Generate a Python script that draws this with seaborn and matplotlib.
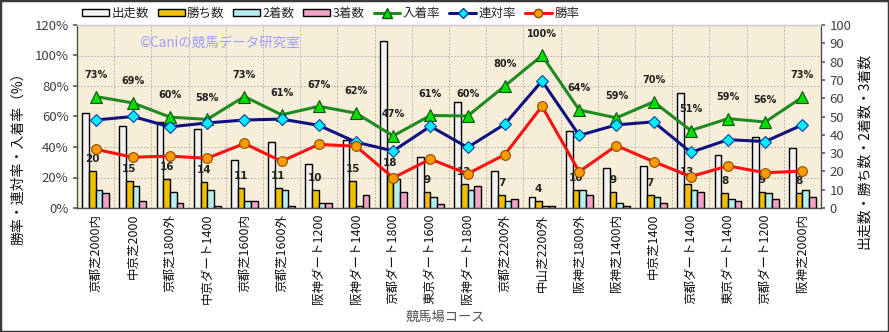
import numpy as np
import pandas as pd
import matplotlib
matplotlib.use('Agg')
import matplotlib.pyplot as plt
import seaborn as sns
from matplotlib.ticker import FixedLocator, FuncFormatter
from matplotlib.lines import Line2D
from matplotlib.patches import Patch, Rectangle

# ---------------- data ----------------
courses = ['京都芝2000内', '中京芝2000', '京都芝1800外', '中京ダート1400', '京都芝1600内',
           '京都芝1600外', '阪神ダート1200', '阪神ダート1400', '京都ダート1800', '東京ダート1600',
           '阪神ダート1800', '京都芝2200外', '中山芝2200外', '阪神芝1800外', '阪神芝1400内',
           '中京芝1400', '京都ダート1400', '東京ダート1400', '京都ダート1200', '阪神芝2000内']
starts  = [52, 45, 47, 43, 26, 36, 24, 37, 91, 28, 58, 20, 6, 42, 22, 23, 63, 29, 39, 33]
wins    = [20, 15, 16, 14, 11, 11, 10, 15, 18, 9, 13, 7, 4, 10, 9, 7, 13, 8, 9, 8]
seconds = [10, 12, 9, 10, 4, 10, 3, 1, 16, 6, 10, 4, 1, 10, 3, 6, 10, 5, 8, 10]
thirds  = [8, 4, 3, 1, 4, 1, 3, 7, 9, 2, 12, 5, 1, 7, 1, 3, 9, 4, 5, 6]
win_rate    = [38.5, 33.3, 34.0, 32.6, 42.3, 30.6, 41.7, 40.5, 19.8, 32.1,
               22.4, 35.0, 66.7, 23.8, 40.9, 30.4, 20.6, 27.6, 23.1, 24.2]
rentai_rate = [57.7, 60.0, 53.2, 55.8, 57.7, 58.3, 54.2, 43.2, 37.4, 53.6,
               39.7, 55.0, 83.3, 47.6, 54.5, 56.5, 36.5, 44.8, 43.6, 54.5]
place_rate  = [73.1, 68.9, 59.6, 58.1, 73.1, 61.1, 66.7, 62.2, 47.3, 60.7,
               60.3, 80.0, 100.0, 64.3, 59.1, 69.6, 50.8, 58.6, 56.4, 72.7]
place_labels = ['73%', '69%', '60%', '58%', '73%', '61%', '67%', '62%', '47%', '61%',
                '60%', '80%', '100%', '64%', '59%', '70%', '51%', '59%', '56%', '73%']
bar_names = ['出走数', '勝ち数', '2着数', '3着数']
left_ticks = [0, 20, 40, 60, 80, 100, 120]
right_ticks = [0, 10, 20, 30, 40, 50, 60, 70, 80, 90, 100]

# ---------------- style ----------------
sns.set_theme(style='white')
plt.rcParams['font.family'] = ['Noto Sans CJK JP', 'DejaVu Sans']

W, H = 889, 332
fig = plt.figure(figsize=(W / 100, H / 100), dpi=100)
fig.patch.set_facecolor('white')
L, R, T, B = 77, 821, 25, 208
ax = fig.add_axes([L / W, 1 - B / H, (R - L) / W, (B - T) / H])
ax.set_facecolor('#f7eed9')
ax2 = ax.twinx()

df = pd.DataFrame({'コース': courses, '出走数': starts, '勝ち数': wins,
                   '2着数': seconds, '3着数': thirds})
long = df.melt(id_vars='コース', value_vars=bar_names, var_name='種別', value_name='数')
bar_colors = ['#f2f2f2', '#f0c000', '#b4eeee', '#f2a2c8']
sns.barplot(data=long, x='コース', y='数', hue='種別', hue_order=bar_names,
            palette=bar_colors, saturation=1, width=0.72, edgecolor='black',
            linewidth=1.0, ax=ax, legend=False, zorder=3)

ax.set_xlim(-0.5, len(courses) - 0.5)
ax.set_ylim(0, 100)
ax.yaxis.tick_right()
ax.yaxis.set_major_locator(FixedLocator(right_ticks))
ax.tick_params(axis='y', which='major', length=3, color='#606060', labelsize=9.5,
               labelcolor='#404040', right=True, left=False, labelright=True,
               labelleft=False, pad=3)
ax.tick_params(axis='x', which='major', length=0, labelsize=9, labelcolor='#111111',
               rotation=90, pad=4)
for lab in ax.get_xticklabels():
    lab.set_verticalalignment('top')
ax.set_xlabel('')
ax.set_ylabel('')

# grid (dashed), aligned to left % axis and category boundaries
ax.xaxis.set_minor_locator(FixedLocator(np.arange(len(courses)) + 0.5))
ax.yaxis.set_minor_locator(FixedLocator([v * 100 / 120 for v in left_ticks]))
ax.tick_params(which='minor', length=0)
ax.grid(which='minor', color='#a8a8a8', linestyle=(0, (2, 2)), linewidth=0.6, zorder=0)
ax.grid(which='major', visible=False)
ax.set_axisbelow(True)

for s in ax.spines.values():
    s.set_color('#505050')
    s.set_linewidth(1.0)
ax.spines['top'].set_color('#c8c8c8')

# bar labels on 勝ち数
ax.bar_label(ax.containers[1], labels=[str(w) for w in wins], padding=5,
             fontsize=7.5, fontweight='bold', color='#222222', family='DejaVu Sans')

# ---------------- lines on % axis ----------------
ax2.set_ylim(0, 120)
pos = np.arange(len(courses))
sns.lineplot(x=pos, y=place_rate, ax=ax2, color='#1f8a1f', linewidth=2.2,
             marker='^', markersize=8.5, markerfacecolor='#00dd00',
             markeredgecolor='#145014', markeredgewidth=0.8, zorder=5)
sns.lineplot(x=pos, y=rentai_rate, ax=ax2, color='#101080', linewidth=2.2,
             marker='D', markersize=6, markerfacecolor='#00eeff',
             markeredgecolor='#1040a0', markeredgewidth=0.8, zorder=5)
sns.lineplot(x=pos, y=win_rate, ax=ax2, color='#ff1010', linewidth=2.2,
             marker='o', markersize=7, markerfacecolor='#ff9a00',
             markeredgecolor='#8a4a00', markeredgewidth=0.8, zorder=5)
ax2.set_xlim(-0.5, len(courses) - 0.5)
ax2.yaxis.tick_left()
ax2.yaxis.set_major_locator(FixedLocator(left_ticks))
ax2.yaxis.set_major_formatter(FuncFormatter(lambda v, p: f'{int(v)}%'))
ax2.tick_params(axis='y', length=3, color='#606060', labelsize=9.5,
                labelcolor='#404040', left=True, right=False, labelleft=True,
                labelright=False, pad=3)
ax2.set_ylabel('')
ax2.grid(False)
for s in ax2.spines.values():
    s.set_visible(False)

for i, (v, t) in enumerate(zip(place_rate, place_labels)):
    ax2.annotate(t, (i, v), xytext=(0, 12), textcoords='offset points', ha='center',
                 va='bottom', fontsize=7, fontweight='bold', color='#222222',
                 family='DejaVu Sans')

# watermark
ax.text((139 - L) / (R - L), (B - 43) / (B - T), '©Caniの競馬データ研究室',
        transform=ax.transAxes, color='#9d9dff', fontsize=9.7, va='center', ha='left')

# axis titles
fig.text(18 / W, 1 - 155 / H, '勝率・連対率・入着率（%）', rotation=90, ha='center',
         va='center', fontsize=10, color='#111111')
fig.text(864 / W, 1 - 151 / H, '出走数・勝ち数・2着数・3着数', rotation=90, ha='center',
         va='center', fontsize=10, color='#111111')
fig.text(445 / W, 1 - 317 / H, '競馬場コース', ha='center', va='center',
         fontsize=9.5, color='#505050')

# legend
handles = [Patch(facecolor=c, edgecolor='black', linewidth=1.0) for c in bar_colors]
handles += [
    Line2D([], [], color='#1f8a1f', lw=2.2, marker='^', ms=7, mfc='#00dd00', mec='#145014'),
    Line2D([], [], color='#101080', lw=2.2, marker='D', ms=5, mfc='#00eeff', mec='#1040a0'),
    Line2D([], [], color='#ff1010', lw=2.2, marker='o', ms=6, mfc='#ff9a00', mec='#8a4a00'),
]
labels = bar_names + ['入着率', '連対率', '勝率']
fig.legend(handles, labels, loc='upper left', bbox_to_anchor=(82 / W, 1 - 7 / H),
           ncol=7, frameon=False, fontsize=9, handlelength=2.15, handleheight=0.45,
           handletextpad=0.2, columnspacing=0.7, borderaxespad=0, borderpad=0)

fig.patches.append(Rectangle((0, 0), 1, 1, transform=fig.transFigure, fill=False,
                             edgecolor='#3a3a3a', linewidth=2.5))

fig.savefig('out.png', dpi=100)
